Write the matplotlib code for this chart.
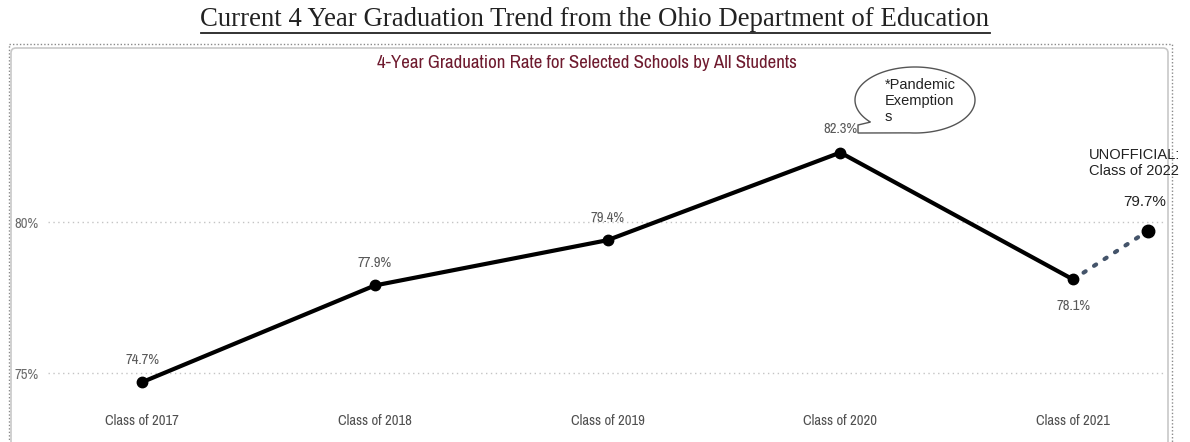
import numpy as np
import matplotlib
matplotlib.use("Agg")
import matplotlib.pyplot as plt
from matplotlib import font_manager
from matplotlib.patches import Rectangle, FancyBboxPatch, PathPatch
from matplotlib.path import Path

# data
classes = ["Class of 2017", "Class of 2018", "Class of 2019", "Class of 2020", "Class of 2021"]
rates = [74.7, 77.9, 79.4, 82.3, 78.1]
unofficial_label = "UNOFFICIAL:\nClass of 2022"
unofficial_rate = 79.7
unofficial_x = 4.32  # sits a bit right of the 2021 category
yticks = [75, 80]
ytick_labels = ["75%", "80%"]

# look for a narrow / condensed face, the chart text is squeezed
narrow_name, narrow_stretch = "Liberation Sans", "normal"
for f in font_manager.fontManager.ttflist:
    if "Narrow" in f.name or "Condensed" in f.name:
        narrow_name, narrow_stretch = f.name, "normal"
        break
else:
    for f in font_manager.fontManager.ttflist:
        if f.stretch in ("condensed", "semi-condensed", 87.5, 75) and f.style == "normal":
            narrow_name, narrow_stretch = f.name, f.stretch
            break
narrow = dict(family=[narrow_name, "DejaVu Sans"], stretch=narrow_stretch)
have_narrow = narrow_name != "Liberation Sans"
nsize = 10.5 if have_narrow else 9.5

W, H = 1190, 442
fig = plt.figure(figsize=(W / 100, H / 100), dpi=100)

# pixel-space overlay for the page decorations
deco = fig.add_axes([0, 0, 1, 1], zorder=0)
deco.set_xlim(0, W)
deco.set_ylim(H, 0)
deco.axis("off")

# outer dotted frame and inner rounded panel
deco.add_patch(Rectangle((9, 44), 1163, 420, fill=False, ec="#8a8a8a", lw=1, ls=(0, (1, 1.5))))
deco.add_patch(FancyBboxPatch((11, 48), 1157, 410, boxstyle="round,pad=0,rounding_size=5",
                              fill=False, ec="#c8c8c8", lw=1.2))

# main axes
ax = fig.add_axes([48 / W, (H - 400) / H, (1165 - 48) / W, (400 - 48) / H], zorder=1)
ax.patch.set_alpha(0)
for s in ax.spines.values():
    s.set_visible(False)
ax.set_xlim(-0.404, 4.395)
ax.set_ylim(74.11, 85.76)

ax.set_yticks(yticks)
ax.set_yticklabels(ytick_labels, fontsize=nsize, color="#6b6b6b", **narrow)
ax.set_xticks(range(len(classes)))
ax.set_xticklabels(classes, fontsize=nsize, color="#505050", **narrow)
ax.tick_params(axis="y", length=0, pad=7)
ax.tick_params(axis="x", length=0, pad=10)
ax.grid(axis="y", color="#c4c4c4", ls=(0, (1, 2.5)), lw=1)
ax.grid(axis="x", visible=False)

xs = list(range(len(classes)))
ax.plot(xs, rates, color="black", lw=3, marker="o", ms=7.5, zorder=3, solid_capstyle="round")
ax.plot([xs[-1], unofficial_x], [rates[-1], unofficial_rate], color="#44546a", lw=3,
        ls=(0, (0.6, 2.4)), dash_capstyle="round", zorder=2)
ax.plot([unofficial_x], [unofficial_rate], "o", color="black", ms=9, zorder=4)

# value labels
offsets = [(0, 16), (0, 16), (0, 16), (0, 17), (0, -19)]
for x, r, off in zip(xs, rates, offsets):
    ax.annotate(f"{r}%", (x, r), xytext=off, textcoords="offset points", ha="center",
                va="center", fontsize=nsize, color="#595959", **narrow)

ax.annotate(f"{unofficial_rate}%", (unofficial_x, unofficial_rate), xytext=(-2, 21),
            textcoords="offset points", ha="center", va="center", fontsize=11,
            family="Liberation Sans", color="#222222", annotation_clip=False)
ax.annotate(unofficial_label, (unofficial_x, unofficial_rate), xytext=(-42, 49),
            textcoords="offset points", ha="left", va="center", fontsize=10.5,
            family="Liberation Sans", color="#222222", linespacing=1.25,
            annotation_clip=False)

# chart title
deco.text(587, 63, "4-Year Graduation Rate for Selected Schools by All Students",
          ha="center", va="center", fontsize=13.6 if have_narrow else 11.5,
          color="#6e1a2e", **narrow)

# speech bubble: ellipse arc from the lower middle round to the lower left, then the tail
cx, cy, a, b = 915, 100, 60, 33
arc = [(cx + a * np.cos(t), cy + b * np.sin(t)) for t in np.linspace(np.deg2rad(95), np.deg2rad(-222), 240)]
verts = arc + [(858, 125), (858, 133), arc[0], arc[0]]
codes = [Path.MOVETO] + [Path.LINETO] * (len(verts) - 2) + [Path.CLOSEPOLY]
deco.add_patch(PathPatch(Path(verts, codes), fc="white", ec="#555555", lw=1, zorder=5))
deco.text(885, 101, "*Pandemic\nExemption\ns", ha="left", va="center", fontsize=10.5,
          family="Liberation Sans", color="#222222", linespacing=1.2, zorder=6)

# page heading, underlined
head = deco.text(595, 20, "Current 4 Year Graduation Trend from the Ohio Department of Education",
                 ha="center", va="center", family="Liberation Serif", fontsize=19.3, color="#222222")
fig.canvas.draw()
bb = head.get_window_extent()
deco.plot([bb.x0, bb.x1], [33, 33], color="#222222", lw=1.3)

fig.savefig("out.png", dpi=100)
